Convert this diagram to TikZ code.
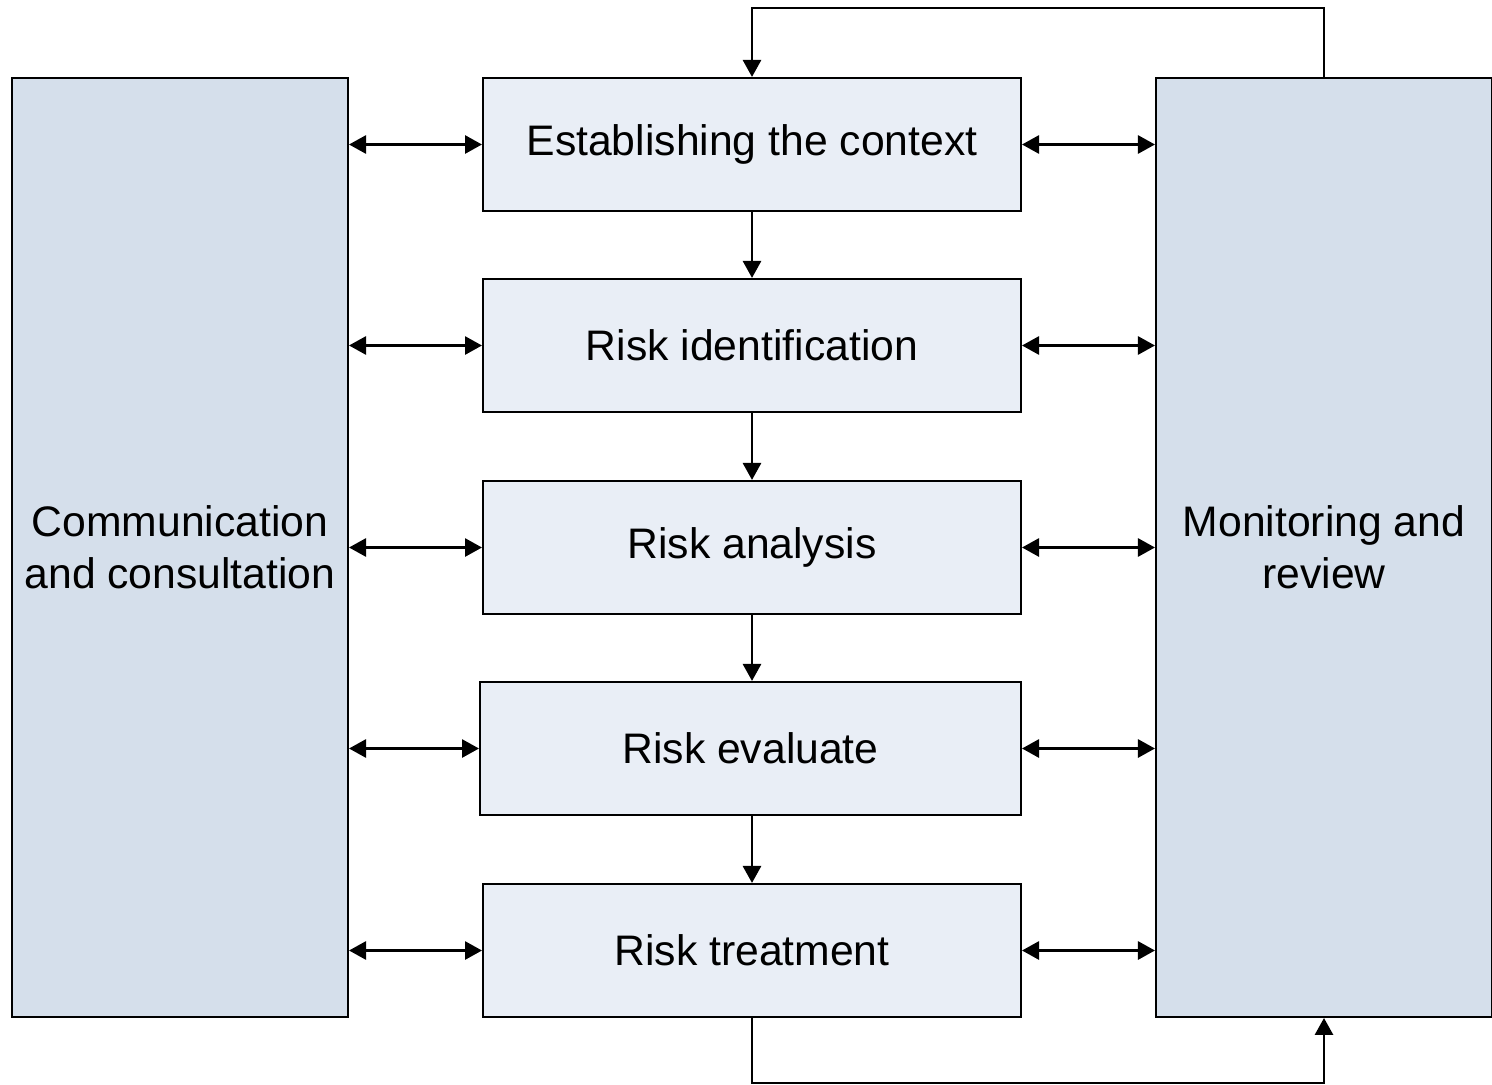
\documentclass[tikz,border=0pt]{standalone}
\usepackage{fontspec}
\setmainfont{Liberation Sans}
\usetikzlibrary{arrows.meta}
\definecolor{sidefill}{HTML}{D5DFEB}
\definecolor{stepfill}{HTML}{E9EEF6}
\tikzset{
  sidebox/.style={draw,line width=1.2pt,fill=sidefill,minimum width=6.72cm,
    minimum height=18.78cm,align=center,inner sep=0pt,
    font=\fontsize{24.3}{29.5}\selectfont},
  stepbox/.style={draw,line width=1.2pt,fill=stepfill,minimum width=10.76cm,
    minimum height=2.66cm,inner sep=0pt,font=\fontsize{24.3}{29.5}\selectfont},
  link/.style={line width=1.6pt,-{Triangle[length=0.34cm,width=0.36cm]}},
  twoway/.style={line width=1.6pt,
    {Triangle[length=0.34cm,width=0.36cm]}-{Triangle[length=0.34cm,width=0.36cm]}}
}
\begin{document}
\begin{tikzpicture}[x=0.02cm,y=-0.02cm]
    \useasboundingbox (0,0) rectangle (1492,1085);
    \node[sidebox] (comm) at (180,547.5) {Communication\\and consultation};
    \node[sidebox] (mon) at (1324,547.5) {Monitoring and\\review};
    \node[stepbox] (ctx) at (752,144.5) {Establishing the context};
    \node[stepbox] (ident) at (752,345.5) {Risk identification};
    \node[stepbox] (anal) at (752,547.5) {Risk analysis};
    \node[stepbox,minimum width=10.82cm] (eval) at (750.5,748.5) {Risk evaluate};
    \node[stepbox] (treat) at (752,950.5) {Risk treatment};
    \coordinate (top) at (752,8);
    \coordinate (bot) at (752,1083);
    % main flow
    \draw[link] (ctx) -- (ident);
    \draw[link] (ident) -- (anal);
    \draw[link] (anal.south) -- (anal.south |- eval.north);
    \draw[link] (eval.south -| anal.south) -- (treat);
    % feedback loop
    \draw[link] (mon.north) |- (top) -- (ctx.north);
    \draw[link] (treat.south) -- (bot) -| (mon.south);
    % both sides
    \foreach \s in {ctx,ident,anal,eval,treat} {
      \draw[twoway] (comm.east |- \s.west) -- (\s.west);
      \draw[twoway] (\s.east) -- (mon.west |- \s.east);
    }
\end{tikzpicture}
\end{document}
